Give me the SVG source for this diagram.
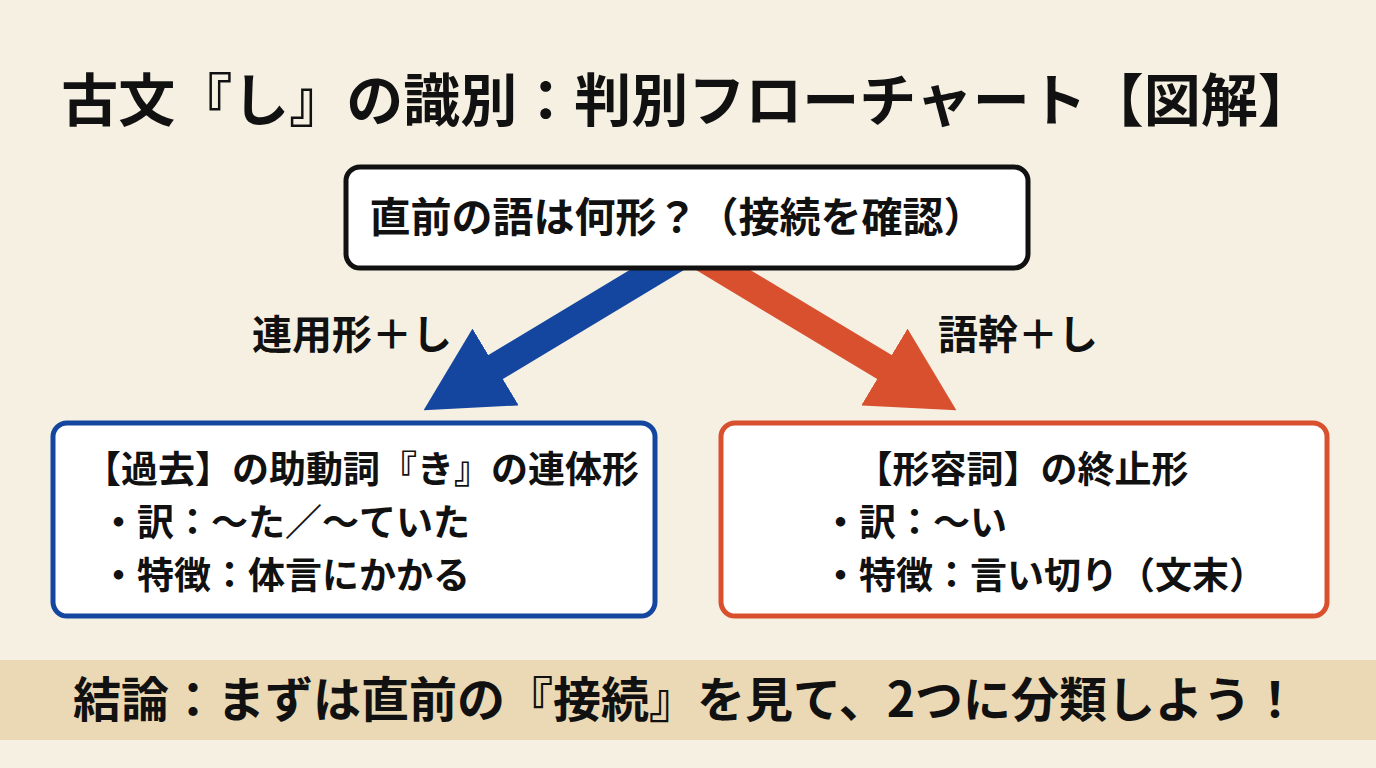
<svg xmlns="http://www.w3.org/2000/svg" width="1376" height="768" viewBox="0 0 1376 768">
<style>
text{font-family:"Noto Sans CJK JP","Noto Sans",sans-serif;font-weight:700;fill:#111}
.box{fill:#fff;stroke-width:5}
.t{font-size:37px}
</style>
<defs>
<marker id="hb" markerUnits="strokeWidth" orient="auto" refX="0.9" refY="1.6" markerWidth="3" markerHeight="3.2"><path d="M0,0 L3,1.6 L0,3.2 z" fill="#1446a0"/></marker>
<marker id="hr" markerUnits="strokeWidth" orient="auto" refX="0.9" refY="1.6" markerWidth="3" markerHeight="3.2"><path d="M0,0 L3,1.6 L0,3.2 z" fill="#d9502f"/></marker>
</defs>
<rect width="1376" height="768" fill="#f6f0e2"/>
<text x="688" y="121" font-size="57" text-anchor="middle">古文『し』の識別：判別フローチャート【図解】</text>
<g id="connectors">
<line x1="690" y1="250" x2="474" y2="380" stroke="#1446a0" stroke-width="28" marker-end="url(#hb)"/>
<line x1="690" y1="250" x2="906" y2="380" stroke="#d9502f" stroke-width="28" marker-end="url(#hr)"/>
<text x="352" y="349" font-size="40" text-anchor="middle">連用形＋し</text>
<text x="1018" y="349" font-size="40" text-anchor="middle">語幹＋し</text>
</g>
<g id="top">
<rect class="box" x="346" y="167" width="682" height="101" rx="14" stroke="#111"/>
<text x="677" y="232" font-size="41" text-anchor="middle">直前の語は何形？（接続を確認）</text>
</g>
<g id="left">
<rect class="box" x="53" y="423" width="602" height="193" rx="14" stroke="#1446a0"/>
<text class="t" x="84" y="483">【過去】の助動詞『き』の連体形</text>
<text class="t" x="100" y="536">・訳：〜た／〜ていた</text>
<text class="t" x="100" y="589">・特徴：体言にかかる</text>
</g>
<g id="right">
<rect class="box" x="721" y="423" width="606" height="193" rx="14" stroke="#d9502f"/>
<text class="t" x="1022" y="483" text-anchor="middle">【形容詞】の終止形</text>
<text class="t" x="822" y="536">・訳：〜い</text>
<text class="t" x="822" y="589">・特徴：言い切り（文末）</text>
</g>
<g id="conclusion">
<rect x="0" y="660" width="1376" height="80" fill="#ead9b4"/>
<text x="686" y="717" font-size="48" text-anchor="middle">結論：まずは直前の『接続』を見て、2つに分類しよう！</text>
</g>
</svg>
